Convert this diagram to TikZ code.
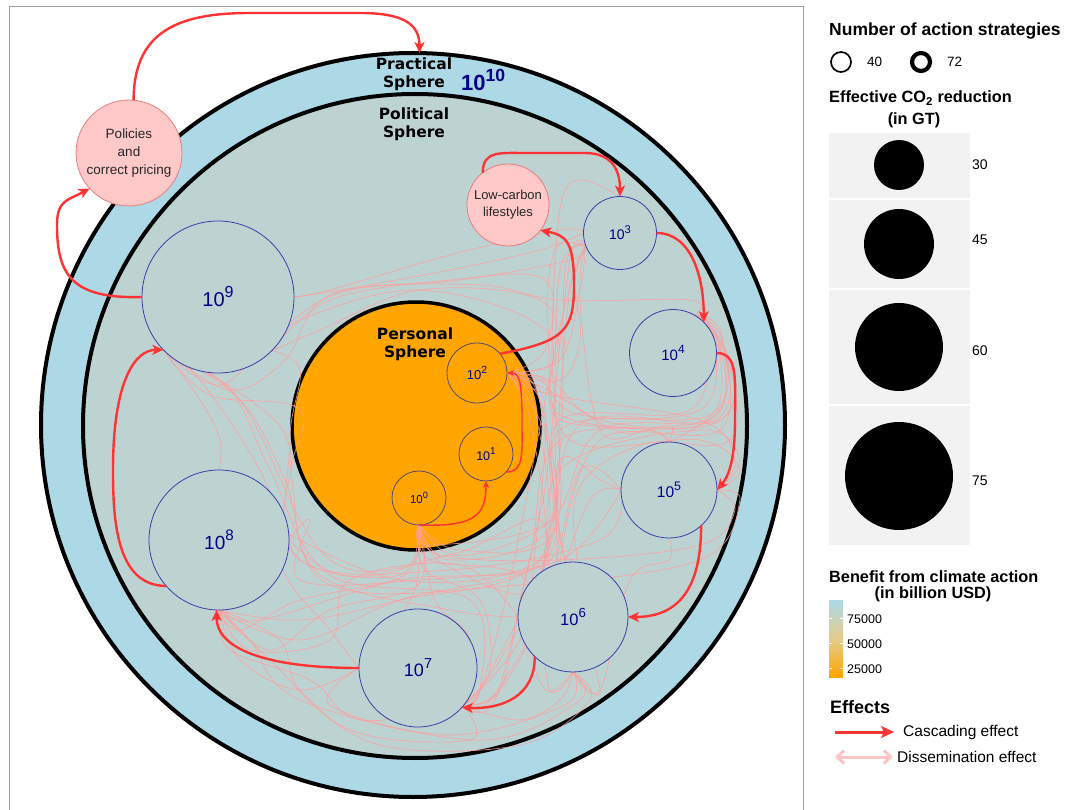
\documentclass[tikz,border=0pt]{standalone}
\usepackage{fontspec}
\setmainfont{Liberation Sans}
\newfontfamily\dvs{DejaVu Sans}
\usetikzlibrary{arrows.meta}
\newcommand\myfs[2]{\fontsize{#1}{#2}\selectfont}
\newcommand\expo[1]{\raisebox{0.45em}{\scalebox{0.8}{#1}}}
\definecolor{practical}{HTML}{ADD8E6}
\definecolor{political}{HTML}{BDD3D2}
\definecolor{personal}{HTML}{FFA500}
\definecolor{pinkfill}{HTML}{FFC9C9}
\definecolor{pinkline}{HTML}{EE7C7C}
\definecolor{navyc}{HTML}{00008B}
\definecolor{stratline}{HTML}{3C3CA8}
\definecolor{pstratline}{HTML}{5A4A70}
\definecolor{cascade}{HTML}{FF3333}
\definecolor{dissem}{HTML}{FF9E9E}
\definecolor{dissleg}{HTML}{FFC4C4}
\definecolor{panel}{HTML}{F2F2F2}
\definecolor{framegray}{HTML}{A0A0A0}
\pgfdeclarelayer{back}
\pgfdeclarelayer{disslayer}
\pgfsetlayers{back,disslayer,main}
\tikzset{
  sph/.style={circle, draw=black, line width=4pt, inner sep=0pt, outer sep=0pt},
  strat/.style={circle, draw=stratline, line width=0.8pt, fill=political, inner sep=0pt, outer sep=0pt, text=navyc},
  pstrat/.style={circle, draw=pstratline, line width=0.8pt, fill=personal, inner sep=0pt, outer sep=0pt, text=navyc},
  pinknode/.style={circle, draw=pinkline, line width=0.8pt, fill=pinkfill, inner sep=0pt, outer sep=0pt, align=center, text=black!85},
  casc/.style={draw=cascade, line width=2.4pt, -{Stealth[length=11pt,width=10pt,inset=3pt]}},
  cascthin/.style={draw=cascade, line width=1.4pt, -{Stealth[length=7pt,width=6pt,inset=2pt]}},
  diss/.style={draw=dissem, line width=0.7pt, opacity=0.82},
  sphlabel/.style={font=\dvs\bfseries\myfs{15.5}{18}, align=center, inner sep=0pt},
  legtitle/.style={font=\bfseries\myfs{16.3}{18}, inner sep=0pt},
  legtext/.style={font=\myfs{15.5}{18}, inner sep=0pt},
  legnum/.style={font=\myfs{14}{16}, inner sep=0pt},
}
\begin{document}
\begin{tikzpicture}[x=1pt,y=-1pt]
\useasboundingbox (0,0) rectangle (1069,810);
\begin{pgfonlayer}{back}
\fill[white] (0,0) rectangle (1069,810);
\draw[framegray, line width=1pt] (9,7) rectangle (803,822);
\node[sph, fill=practical, minimum size=744] (prac) at (413,425) {};
\node[sph, fill=political, minimum size=664] (polit) at (415,426) {};
\node[sph, fill=personal, minimum size=248, line width=3.5pt] (pers) at (416,426) {};
\end{pgfonlayer}

% sphere labels
\node[sphlabel] (practxt) at (414,74) {Practical\\Sphere};
\node[font=\bfseries\myfs{22}{24}, text=navyc, anchor=base west, inner sep=0pt] (ten10) at (461,91) {10\expo{10}};
\node[sphlabel] (politxt) at (414,124) {Political\\Sphere};

% strategy circles
\node[strat, minimum size=152, font=\myfs{20}{22}] (s9) at (218,297) {10\expo{9}};
\node[strat, minimum size=140, font=\myfs{19}{22}] (s8) at (219,540) {10\expo{8}};
\node[strat, minimum size=118, font=\myfs{18}{20}] (s7) at (418,668) {10\expo{7}};
\node[strat, minimum size=110, font=\myfs{16.5}{20}] (s6) at (573,617) {10\expo{6}};
\node[strat, minimum size=96, font=\myfs{15.5}{18}] (s5) at (669,490) {10\expo{5}};
\node[strat, minimum size=87, font=\myfs{15}{18}] (s4) at (673,353) {10\expo{4}};
\node[strat, minimum size=73, font=\myfs{14}{16}] (s3) at (620,233) {10\expo{3}};
\node[pstrat, minimum size=60, font=\myfs{13}{15}] (p2) at (477,373) {10\expo{2}};
\node[pstrat, minimum size=54, font=\myfs{12.5}{14}] (p1) at (486,454) {10\expo{1}};
\node[pstrat, minimum size=54, font=\myfs{11.5}{14}] (p0) at (419,498) {10\expo{0}};
\node[sphlabel] (perstxt) at (415,344) {Personal\\Sphere};

% pink nodes
\node[pinknode, minimum size=106, font=\myfs{13.5}{18}] (pol) at (129,153) {Policies\\and\\correct pricing};
\node[pinknode, minimum size=82, font=\myfs{13}{17}] (lc) at (508,205) {Low-carbon\\lifestyles};

% dissemination lines
\begin{pgfonlayer}{disslayer}
\begin{scope}[diss]
\draw plot[smooth, tension=0.6] coordinates {(p0.south) (405,575) (300,600) (240,630) (s8.south)};
\draw plot[smooth, tension=0.6] coordinates {(p0.south) (425,570) (480,600) (490,670) (s7.320)};
\draw plot[smooth, tension=0.6] coordinates {(p0.south) (430,560) (520,575) (560,640) (s6.south)};
\draw plot[smooth, tension=0.6] coordinates {(p0.south) (440,555) (560,560) (700,545) (735,510) (s5.east)};
\draw plot[smooth, tension=0.6] coordinates {(p0.south) (410,565) (340,575) (s8.east)};
\draw plot[smooth, tension=0.6] coordinates {(p0.south) (400,575) (300,560) (260,470) (200,380) (s9.223)};
\draw plot[smooth, tension=0.6] coordinates {(p0.south) (450,560) (548,530) (560,400) (570,290) (s3.200)};
\draw plot[smooth, tension=0.6] coordinates {(p0.south) (460,556) (552,520) (600,430) (720,420) (730,360) (s4.60)};
\draw plot[smooth, tension=0.6] coordinates {(p0.south) (415,590) (380,640) (s7.west)};
\draw plot[smooth, tension=0.6] coordinates {(p0.south) (445,565) (540,590) (580,470) (s5.west)};
\draw plot[smooth, tension=0.6] coordinates {(p0.south) (418,585) (330,610) (270,650) (s8.south)};
\draw plot[smooth, tension=0.6] coordinates {(p0.south) (435,600) (470,640) (s7.320)};
\draw plot[smooth, tension=0.6] coordinates {(p2.east) (550,380) (600,420) (710,425) (735,380) (s4.60)};
\draw plot[smooth, tension=0.6] coordinates {(p2.east) (548,390) (620,432) (669,425) (s5.north)};
\draw plot[smooth, tension=0.6] coordinates {(p2.east) (540,400) (555,500) (560,640) (s6.south)};
\draw plot[smooth, tension=0.6] coordinates {(p2.east) (530,420) (545,560) (500,660) (s7.320)};
\draw plot[smooth, tension=0.6] coordinates {(p2.east) (535,410) (540,560) (400,600) (300,620) (s8.south)};
\draw plot[smooth, tension=0.6] coordinates {(p2.east) (560,360) (580,290) (s3.200)};
\draw plot[smooth, tension=0.6] coordinates {(p2.east) (545,350) (545,280) (450,280) (330,300) (s9.315)};
\draw plot[smooth, tension=0.6] coordinates {(p2.east) (552,395) (700,420) (735,460) (s5.east)};
\draw plot[smooth, tension=0.6] coordinates {(p2.east) (538,395) (565,560) (600,690) (s6.south)};
\draw plot[smooth, tension=0.6] coordinates {(s9.223) (220,385) (280,330) (350,290) (480,285) (560,300) (690,300) (s4.60)};
\draw plot[smooth, tension=0.6] coordinates {(s9.223) (230,390) (285,360) (330,295) (460,280) (570,260) (s3.200)};
\draw plot[smooth, tension=0.6] coordinates {(s9.223) (240,400) (285,480) (320,575) (450,610) (s6.west)};
\draw plot[smooth, tension=0.6] coordinates {(s9.223) (250,400) (290,450) (280,560) (330,630) (s7.west)};
\draw plot[smooth, tension=0.6] coordinates {(s9.315) (300,370) (290,440) (300,560) (450,570) (600,540) (s5.west)};
\draw plot[smooth, tension=0.6] coordinates {(s9.223) (200,400) (220,440) (s8.north)};
\draw plot[smooth, tension=0.6] coordinates {(s9.east) (340,290) (450,270) (540,250) (s3.west)};
\draw plot[smooth, tension=0.6] coordinates {(s9.315) (320,330) (420,290) (540,300) (555,360) (p2.east)};
\draw plot[smooth, tension=0.6] coordinates {(s9.223) (210,395) (300,410) (292,480) (330,585) (520,585) (700,560) (740,500) (s5.east)};
\draw plot[smooth, tension=0.6] coordinates {(s3.200) (560,270) (555,420) (560,540) (s6.north)};
\draw plot[smooth, tension=0.6] coordinates {(s3.200) (565,270) (560,450) (530,620) (s7.320)};
\draw plot[smooth, tension=0.6] coordinates {(s3.200) (570,260) (550,450) (545,560) (400,600) (300,640) (s8.south)};
\draw plot[smooth, tension=0.6] coordinates {(s3.200) (580,300) (600,430) (650,430) (s5.north)};
\draw plot[smooth, tension=0.6] coordinates {(s3.west) (560,230) (450,255) (330,290) (s9.east)};
\draw plot[smooth, tension=0.6] coordinates {(s3.200) (575,280) (580,340) (560,380) (p2.east)};
\draw plot[smooth, tension=0.6] coordinates {(s3.north) (580,180) (560,210) (552,350) (555,530) (460,550) (p0.south)};
\draw plot[smooth, tension=0.6] coordinates {(s3.200) (555,250) (548,330) (570,440) (700,440) (740,470) (s5.east)};
\draw plot[smooth, tension=0.6] coordinates {(s4.60) (720,330) (725,400) (700,425) (s5.north)};
\draw plot[smooth, tension=0.6] coordinates {(s4.60) (722,340) (720,430) (600,440) (560,560) (s6.north)};
\draw plot[smooth, tension=0.6] coordinates {(s4.60) (725,350) (715,420) (580,425) (545,560) (480,690) (s7.320)};
\draw plot[smooth, tension=0.6] coordinates {(s4.60) (720,345) (710,415) (560,430) (550,560) (400,580) (260,620) (s8.south)};
\draw plot[smooth, tension=0.6] coordinates {(s4.60) (715,340) (700,410) (580,415) (540,380) (p2.east)};
\draw plot[smooth, tension=0.6] coordinates {(s4.60) (718,340) (705,420) (560,415) (545,330) (420,290) (300,320) (s9.315)};
\draw plot[smooth, tension=0.6] coordinates {(s4.60) (710,330) (690,410) (560,420) (550,520) (430,545) (p0.south)};
\draw plot[smooth, tension=0.6] coordinates {(s4.60) (728,360) (730,440) (640,445) (575,500) (590,640) (s6.south)};
\draw plot[smooth, tension=0.6] coordinates {(s6.south) (560,700) (520,720) (s7.320)};
\draw plot[smooth, tension=0.6] coordinates {(s6.south) (580,700) (480,740) (300,700) (250,640) (s8.south)};
\draw plot[smooth, tension=0.6] coordinates {(s6.south) (545,690) (530,620) (545,450) (540,390) (p2.east)};
\draw plot[smooth, tension=0.6] coordinates {(s6.south) (600,690) (630,580) (669,560) (s5.south)};
\draw plot[smooth, tension=0.6] coordinates {(s6.south) (565,705) (450,735) (330,705) (s7.west)};
\draw plot[smooth, tension=0.6] coordinates {(s6.south) (550,690) (540,600) (540,520) (450,555) (330,560) (240,400) (s9.223)};
\draw plot[smooth, tension=0.6] coordinates {(s6.south) (590,700) (520,745) (380,745) (300,690) (280,640) (s8.south)};
\draw plot[smooth, tension=0.6] coordinates {(s7.320) (500,690) (520,600) (548,450) (p2.east)};
\draw plot[smooth, tension=0.6] coordinates {(s7.320) (490,700) (545,600) (560,470) (700,430) (740,460) (s5.east)};
\draw plot[smooth, tension=0.6] coordinates {(s7.320) (470,740) (350,730) (270,660) (s8.south)};
\draw plot[smooth, tension=0.6] coordinates {(s7.320) (480,690) (510,580) (555,350) (575,270) (s3.200)};
\draw plot[smooth, tension=0.6] coordinates {(s7.320) (480,690) (470,600) (330,575) (270,470) (230,390) (s9.223)};
\draw plot[smooth, tension=0.6] coordinates {(s7.320) (495,700) (530,560) (560,440) (700,425) (728,370) (s4.60)};
\draw plot[smooth, tension=0.6] coordinates {(s8.south) (250,650) (330,640) (350,580) (460,565) (s6.west)};
\draw plot[smooth, tension=0.6] coordinates {(s8.south) (240,660) (300,690) (s7.west)};
\draw plot[smooth, tension=0.6] coordinates {(s8.east) (310,520) (300,580) (420,580) (560,560) (s5.west)};
\draw plot[smooth, tension=0.6] coordinates {(s8.south) (230,650) (310,680) (360,720) (s7.320)};
\draw plot[smooth, tension=0.6] coordinates {(s5.west) (600,480) (560,460) (540,560) (400,580) (260,520) (s8.east)};
\draw plot[smooth, tension=0.6] coordinates {(s5.north) (650,430) (560,420) (545,380) (p2.east)};
\draw plot[smooth, tension=0.6] coordinates {(s5.west) (590,500) (550,600) (500,690) (s7.320)};
\end{scope}
\end{pgfonlayer}

% cascading effects
\coordinate (topA) at (250,13);
\coordinate (topB) at (360,13);
\draw[casc] (pol.85) .. controls +(0,-70) and +(-70,0) .. (topA) -- (topB) .. controls +(45,0) and +(0,-28) .. (prac.89);
\coordinate (leftA) at (57,225);
\draw[casc] (s9.west) .. controls +(-70,2) and +(0,50) .. (leftA) .. controls +(0,-25) and +(-22,12) .. (pol.222);
\coordinate (leftB) at (113,470);
\draw[casc] (s8.221) .. controls +(-50,0) and +(0,50) .. (leftB) .. controls +(0,-90) and +(-28,0) .. (s9.224);
\draw[casc] (s7.west) .. controls +(-90,0) and +(0,40) .. (s8.268);
\draw[casc] (s6.226) .. controls +(0,40) and +(40,2) .. (s7.318);
\draw[casc] (s5.312) .. controls +(0,70) and +(45,0) .. (s6.east);
\coordinate (rightA) at (735,420);
\draw[casc] (s4.east) .. controls +(22,0) and +(0,-40) .. (rightA) .. controls +(0,45) and +(10,-12) .. (s5.east);
\draw[casc] (s3.east) .. controls +(35,0) and +(0,-45) .. (s4.45);
\coordinate (lcA) at (525,153);
\coordinate (lcB) at (585,153);
\draw[casc] (lc.128) .. controls +(0,-22) and +(-25,0) .. (lcA) -- (lcB) .. controls +(28,0) and +(0,-25) .. (s3.north);
\coordinate (p2A) at (574,285);
\draw[casc] (p2.40) .. controls +(65,-12) and +(0,45) .. (p2A) .. controls +(0,-45) and +(25,5) .. (lc.322);
\coordinate (p1A) at (522,420);
\draw[cascthin] (p1.318) .. controls +(18,0) and +(0,35) .. (p1A) .. controls +(0,-40) and +(12,0) .. (p2.east);
\draw[cascthin] (p0.south) .. controls +(55,2) and +(0,35) .. (p1.south);

% legend
\node[legtitle, font=\bfseries\myfs{17.5}{20}, anchor=west] (lt1) at (829,31) {Number of action strategies};
\node[circle, draw=black, line width=1.7pt, minimum size=20, inner sep=0pt] (c40) at (841,62) {};
\node[legnum, anchor=west, font=\myfs{13.5}{16}] (t40) at (867,62) {40};
\node[circle, draw=black, line width=4.2pt, minimum size=18, inner sep=0pt] (c72) at (921,62) {};
\node[legnum, anchor=west, font=\myfs{13.5}{16}] (t72) at (947,62) {72};

\node[legtitle, anchor=west] (lt2) at (829,98) {Effective CO\textsubscript{2} reduction};
\node[legtitle] (lt2b) at (914,120) {(in GT)};
\fill[panel] (829,133) rectangle (970,198);
\fill[panel] (829,200) rectangle (970,288);
\fill[panel] (829,290) rectangle (970,404);
\fill[panel] (829,406) rectangle (970,545);
\node[circle, fill=black, minimum size=50, inner sep=0pt] (d30) at (899,165) {};
\node[circle, fill=black, minimum size=70, inner sep=0pt] (d45) at (899,244) {};
\node[circle, fill=black, minimum size=88, inner sep=0pt] (d60) at (899,347) {};
\node[circle, fill=black, minimum size=108, inner sep=0pt] (d75) at (899,476) {};
\node[legnum, anchor=west] (t30) at (972,165) {30};
\node[legnum, anchor=west] (t45) at (972,240) {45};
\node[legnum, anchor=west] (t60) at (972,351) {60};
\node[legnum, anchor=west] (t75) at (972,481) {75};

\node[legtitle, anchor=west] (lt3) at (829,577) {Benefit from climate action};
\node[legtitle] (lt3b) at (933,594) {(in billion USD)};
\shade[top color=practical, bottom color=personal, middle color=practical!45!personal!75!white] (829,600) rectangle (843,677);
\foreach \yy in {618,643,668}{
  \draw[white, line width=0.6pt] (829,\yy) -- (832,\yy);
  \draw[white, line width=0.6pt] (840,\yy) -- (843,\yy);
}
\node[legnum, anchor=west, font=\myfs{12.5}{14}] (b75) at (847,619) {75000};
\node[legnum, anchor=west, font=\myfs{12.5}{14}] (b50) at (847,644) {50000};
\node[legnum, anchor=west, font=\myfs{12.5}{14}] (b25) at (847,669) {25000};

\node[legtitle, font=\bfseries\myfs{18}{20}, anchor=west] (eff) at (830,707) {Effects};
\coordinate (ca1) at (835,732);
\coordinate (ca2) at (894,732);
\draw[draw=cascade, line width=3pt, -{Stealth[length=13pt,width=12pt,inset=3pt]}] (ca1) -- (ca2);
\node[legtext, anchor=west] (cat) at (903,732) {Cascading effect};
\coordinate (da1) at (835,757);
\coordinate (da2) at (893,757);
\draw[draw=dissleg, line width=3pt, {Straight Barb[length=7pt,width=13pt]}-{Straight Barb[length=7pt,width=13pt]}] (da1) -- (da2);
\node[legtext, anchor=west] (dat) at (897,757) {Dissemination effect};
\end{tikzpicture}
\end{document}
